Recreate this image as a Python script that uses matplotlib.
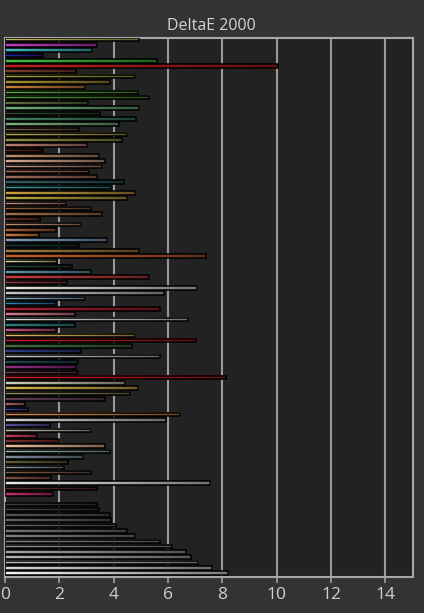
import matplotlib
matplotlib.use('Agg')
import matplotlib.pyplot as plt
import numpy as np
from matplotlib.colors import to_rgb, LinearSegmentedColormap

# DeltaE 2000 per patch (top to bottom)
delta_e = [4.93, 3.40, 3.22, 1.41, 5.59, 10.04, 2.61, 4.79, 3.88, 2.96,
           4.90, 5.31, 3.07, 4.95, 3.50, 4.82, 4.19, 2.72, 4.50, 4.31,
           3.00, 1.40, 3.47, 3.67, 3.58, 3.11, 3.40, 4.39, 3.92, 4.79,
           4.50, 2.26, 3.17, 3.58, 1.29, 2.81, 1.87, 1.25, 3.77, 2.71,
           4.93, 7.41, 1.90, 2.45, 3.18, 5.31, 2.27, 7.05, 5.84, 2.96,
           1.87, 5.70, 2.56, 6.73, 2.56, 1.87, 4.79, 7.02, 4.68, 2.78,
           5.70, 2.67, 2.61, 2.69, 8.12, 4.43, 4.90, 4.61, 3.68, 0.74,
           0.85, 6.45, 5.91, 1.65, 3.17, 1.19, 1.98, 3.67, 3.86, 2.88,
           2.31, 2.16, 3.17, 1.69, 7.56, 3.38, 1.76, 0.00, 3.37, 3.46,
           3.88, 3.91, 4.09, 4.50, 4.79, 5.70, 6.14, 6.65, 6.83, 7.12,
           7.62, 8.21]

patch_colors = ['#c8c050', '#c040c0', '#40c0c8', '#2828b0', '#40c040', '#c02020',
                '#804030', '#a8a840', '#a89030', '#c88040', '#60a840', '#50a030',
                '#607040', '#70b080', '#305030', '#408060', '#80b080', '#806050',
                '#b8b050', '#909040', '#c08070', '#603020', '#c09070', '#d8a890',
                '#c89888', '#b07060', '#a07060', '#306060', '#40a0a0', '#c8a040',
                '#b8a840', '#c09080', '#906040', '#a07050', '#603020', '#c09070',
                '#a86040', '#d88040', '#80a0c0', '#204040', '#a08040', '#c86030',
                '#e0e0b0', '#305040', '#6098a8', '#c84040', '#a04050', '#e8e8d8',
                '#c8c8c8', '#90b0c8', '#3088b8', '#a82030', '#d88090', '#e0e0e0',
                '#308080', '#c85080', '#e0c060', '#c82030', '#407040', '#304088',
                '#d0d0d0', '#204850', '#983088', '#704050', '#d82020', '#d0d0c0',
                '#d8b850', '#909060', '#604050', '#a86060', '#4050a8', '#d89050',
                '#d0d0d0', '#505098', '#c0c0b0', '#c84060', '#803030', '#f0c0a0',
                '#a0c0b0', '#8090a0', '#606030', '#90a0b0', '#806050', '#805040',
                '#e8e8e8', '#603030', '#c83070', '#000000', '#404040', '#4a4a4a',
                '#555555', '#606060', '#6a6a6a', '#757575', '#808080', '#8c8c8c',
                '#989898', '#a5a5a5', '#b3b3b3', '#c3c3c3', '#d8d8d8', '#f4f4f4']

xticks = [0, 2, 4, 6, 8, 10, 12, 14]

fig = plt.figure(figsize=(4.24, 6.13), dpi=100, facecolor='#333333')
ax = fig.add_axes([5/424, 1 - 577/613, 407.5/424, (577 - 38)/613])
ax.set_facecolor('#222222')

ys = np.arange(len(delta_e))

for x in xticks[1:]:
    ax.axvline(x, color='#999999', lw=1.5, zorder=1)

h = 0.68
grad = np.linspace(0, 1, 64).reshape(1, -1)
for y, v, c in zip(ys, delta_e, patch_colors):
    if v <= 0:
        continue
    rgb = np.array(to_rgb(c))
    cmap = LinearSegmentedColormap.from_list('g', [rgb, rgb * 0.5])
    ax.imshow(grad, cmap=cmap, aspect='auto', extent=[0, v, y + h/2, y - h/2],
              zorder=2, interpolation='bilinear')
    ax.barh(y, v, height=h, facecolor='none', edgecolor='black', lw=1.1, zorder=3)

ax.set_xlim(0, 15)
ax.set_ylim(len(delta_e) - 0.25, -0.3)
ax.set_aspect('auto')

ax.set_yticks([])
ax.set_xticks(xticks)
ax.tick_params(axis='x', colors='#a0a0a0', labelcolor='#d0d0d0', labelsize=12.5,
               length=4, width=1.2)
for s in ax.spines.values():
    s.set_color('#a8a8a8')
    s.set_linewidth(1.5)

fig.text(0.498, 1 - 26/613, 'DeltaE 2000', color='#d4d4d4', fontsize=11.5,
         ha='center', va='center', family='Open Sans')
for lbl in ax.get_xticklabels():
    lbl.set_family('Open Sans')

fig.savefig('out.png', dpi=100, facecolor=fig.get_facecolor())
